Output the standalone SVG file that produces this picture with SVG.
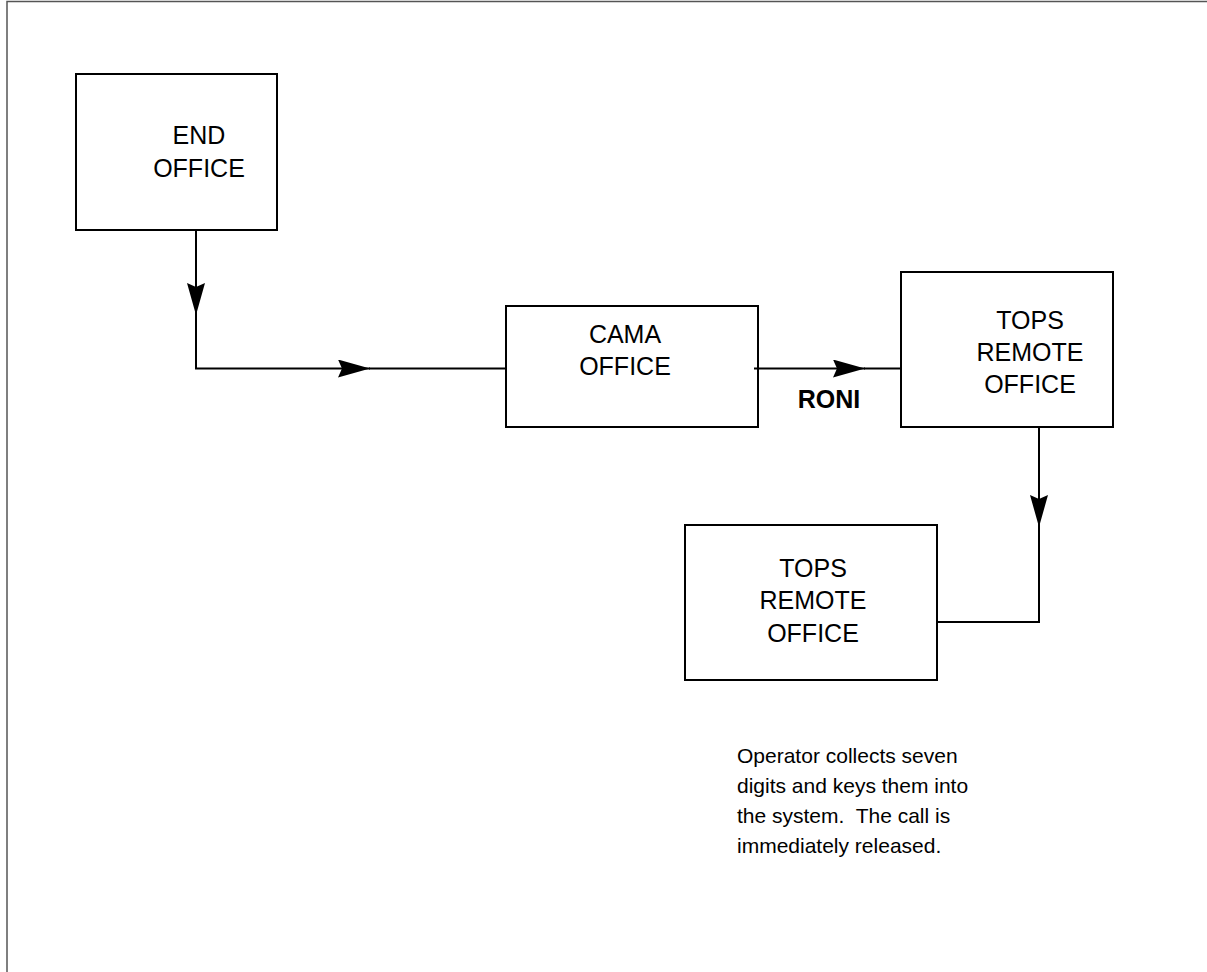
<svg xmlns="http://www.w3.org/2000/svg" width="1207" height="972" viewBox="0 0 1207 972">
<style>
.box{fill:#fff;stroke:#000;stroke-width:2}
.lbl{font-family:"Liberation Sans",Arial,sans-serif;font-size:25px;fill:#000;text-anchor:middle}
.bold{font-weight:bold}
.cap{font-family:"Liberation Sans",Arial,sans-serif;font-size:21px;fill:#000;white-space:pre}
.con{fill:none;stroke:#000;stroke-width:2}
</style>
<defs>
<marker id="ah" markerUnits="userSpaceOnUse" markerWidth="34" markerHeight="20" refX="32" refY="9" orient="auto">
<path d="M0,0 L32,9 L0,18 L4,9 z" fill="#000"/>
</marker>
</defs>
<rect width="1207" height="972" fill="#fff"/>
<path d="M7,972 V1.5 H1207" fill="none" stroke="#555" stroke-width="1.5"/>
<g id="end-office">
<rect class="box" x="76" y="74" width="201" height="156"/>
<text class="lbl" x="199" y="144">END</text>
<text class="lbl" x="199" y="177">OFFICE</text>
</g>
<g id="cama-office">
<rect class="box" x="506" y="306" width="252" height="121"/>
<text class="lbl" x="625" y="343">CAMA</text>
<text class="lbl" x="625" y="375">OFFICE</text>
</g>
<g id="tops-remote-1">
<rect class="box" x="901" y="272" width="212" height="155"/>
<text class="lbl" x="1030" y="329">TOPS</text>
<text class="lbl" x="1030" y="361">REMOTE</text>
<text class="lbl" x="1030" y="393">OFFICE</text>
</g>
<g id="tops-remote-2">
<rect class="box" x="685" y="525" width="252" height="155"/>
<text class="lbl" x="813" y="577">TOPS</text>
<text class="lbl" x="813" y="609">REMOTE</text>
<text class="lbl" x="813" y="642">OFFICE</text>
</g>
<g id="connectors">
<path class="con" d="M196,230 V315" marker-end="url(#ah)"/>
<path class="con" d="M196,314 V368.5 H370" marker-end="url(#ah)"/>
<path class="con" d="M369,368.5 H506"/>
<path class="con" d="M754,368.5 H865" marker-end="url(#ah)"/>
<path class="con" d="M864,368.5 H901"/>
<path class="con" d="M1039,427 V527" marker-end="url(#ah)"/>
<path class="con" d="M1039,526 V622 H937"/>
<text class="lbl bold" x="829" y="408">RONI</text>
</g>
<g id="caption">
<text class="cap" x="737" y="763">Operator collects seven</text>
<text class="cap" x="737" y="793">digits and keys them into</text>
<text class="cap" x="737" y="823" xml:space="preserve">the system.  The call is</text>
<text class="cap" x="737" y="853">immediately released.</text>
</g>
</svg>
